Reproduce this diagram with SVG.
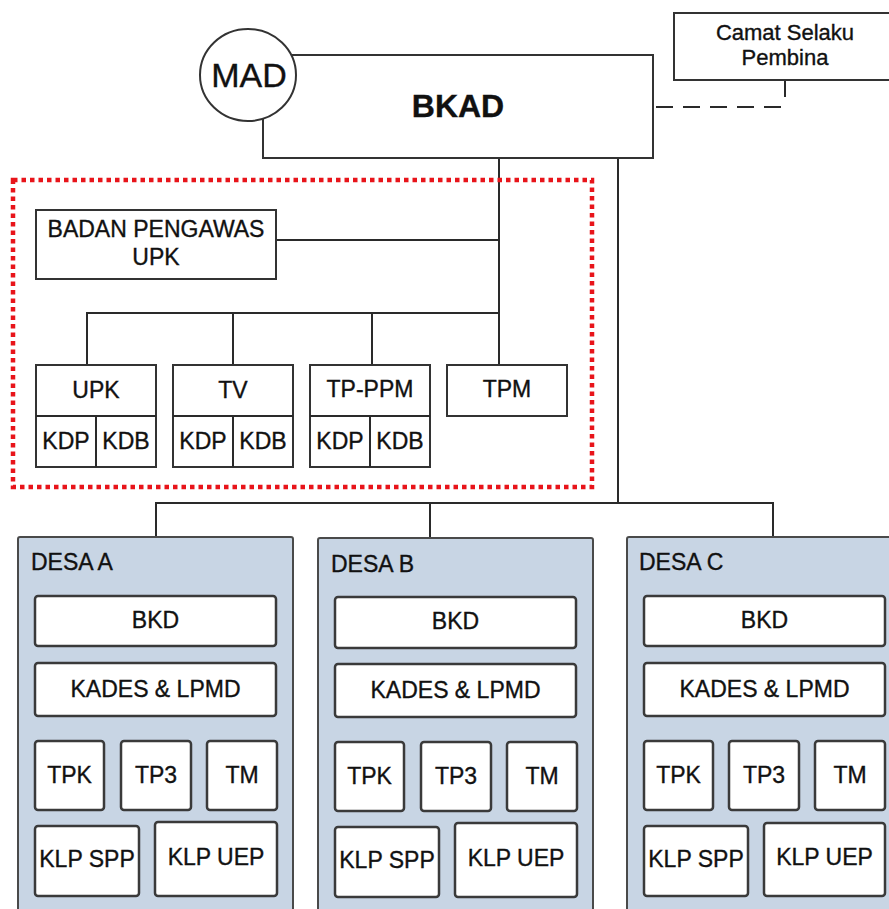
<svg xmlns="http://www.w3.org/2000/svg" width="889" height="909" viewBox="0 0 889 909">
<style>
text{font-family:"Liberation Sans",Arial,sans-serif;fill:#111;font-size:23px;stroke:#111;stroke-width:0.35}
.c{text-anchor:middle}
.cam{font-size:22px}
.mad{font-size:34px}
.bkad{font-size:32px;font-weight:bold}
.box{fill:#fff;stroke:#333;stroke-width:2}
.ib{fill:#fff;stroke:#3a3a3a;stroke-width:2.5}
.desa{fill:#c8d5e4;stroke:#4a4a4a;stroke-width:2}
.ln{fill:none;stroke:#2a2a2a;stroke-width:2}
</style>
<rect width="889" height="909" fill="#fff"/>
<g id="connectors">
<path class="ln" d="M499,158V365M276,240H499M87,365V313H499M233,313V365M372,313V365"/>
<path class="ln" d="M618,158V503M156,537V503H773V537M430,503V538"/>
<path class="ln" d="M785,80V97"/>
<path class="ln" d="M656,107H786" stroke-dasharray="17 10"/>
</g>
<rect id="highlight" x="13" y="180" width="579" height="307" fill="none" stroke="#e8141a" stroke-width="4.5" stroke-dasharray="4.5 4"/>
<g id="camat">
<rect class="box" x="674" y="13" width="220" height="67"/>
<text class="c cam" x="785" y="40">Camat Selaku</text>
<text class="c cam" x="785" y="65">Pembina</text>
</g>
<g id="bkad">
<rect class="box" x="263" y="55" width="390" height="103"/>
<text class="c bkad" x="458" y="117">BKAD</text>
</g>
<g id="mad">
<ellipse cx="248" cy="75" rx="48" ry="46" fill="#fff" stroke="#333" stroke-width="2"/>
<text class="c mad" x="249" y="87">MAD</text>
</g>
<g id="badan-pengawas">
<rect class="box" x="36" y="210" width="240" height="69"/>
<text class="c" x="156" y="237">BADAN PENGAWAS</text>
<text class="c" x="156" y="265">UPK</text>
</g>
<g id="upk">
<rect class="box" x="36" y="365" width="120" height="102"/>
<path class="ln" d="M36,416H156M96,416V467"/>
<text class="c" x="96" y="398">UPK</text>
<text class="c" x="66" y="449">KDP</text>
<text class="c" x="126" y="449">KDB</text>
</g>
<g id="tv">
<rect class="box" x="173" y="365" width="120" height="102"/>
<path class="ln" d="M173,416H293M233,416V467"/>
<text class="c" x="233" y="398">TV</text>
<text class="c" x="203" y="449">KDP</text>
<text class="c" x="263" y="449">KDB</text>
</g>
<g id="tp-ppm">
<rect class="box" x="310" y="365" width="120" height="102"/>
<path class="ln" d="M310,416H430M370,416V467"/>
<text class="c" x="370" y="397">TP-PPM</text>
<text class="c" x="340" y="449">KDP</text>
<text class="c" x="400" y="449">KDB</text>
</g>
<g id="tpm">
<rect class="box" x="447" y="365" width="120" height="51"/>
<text class="c" x="507" y="397">TPM</text>
</g>
<g id="desa-a" transform="translate(18,537)">
<rect class="desa" x="0" y="0" width="275" height="385" rx="2"/>
<text x="13" y="33">DESA A</text>
<rect class="ib" x="17" y="59" width="241" height="50" rx="3"/>
<text class="c" x="137.5" y="91">BKD</text>
<rect class="ib" x="17" y="126" width="241" height="53" rx="3"/>
<text class="c" x="137.5" y="160">KADES &amp; LPMD</text>
<rect class="ib" x="17" y="204" width="69" height="69" rx="3"/>
<text class="c" x="51.5" y="246">TPK</text>
<rect class="ib" x="103" y="204" width="70" height="69" rx="3"/>
<text class="c" x="138" y="246">TP3</text>
<rect class="ib" x="189" y="204" width="70" height="69" rx="3"/>
<text class="c" x="224" y="246">TM</text>
<rect class="ib" x="17" y="289" width="104" height="70" rx="3"/>
<text class="c" x="69" y="330">KLP SPP</text>
<rect class="ib" x="137" y="285" width="122" height="74" rx="3"/>
<text class="c" x="198" y="328">KLP UEP</text>
</g>
<g id="desa-b" transform="translate(318,538)">
<rect class="desa" x="0" y="0" width="275" height="385" rx="2"/>
<text x="13" y="34">DESA B</text>
<rect class="ib" x="17" y="59" width="241" height="51" rx="3"/>
<text class="c" x="137.5" y="91">BKD</text>
<rect class="ib" x="17" y="126" width="241" height="53" rx="3"/>
<text class="c" x="137.5" y="160">KADES &amp; LPMD</text>
<rect class="ib" x="17" y="204" width="69" height="69" rx="3"/>
<text class="c" x="51.5" y="246">TPK</text>
<rect class="ib" x="103" y="204" width="70" height="69" rx="3"/>
<text class="c" x="138" y="246">TP3</text>
<rect class="ib" x="189" y="204" width="70" height="69" rx="3"/>
<text class="c" x="224" y="246">TM</text>
<rect class="ib" x="17" y="289" width="104" height="70" rx="3"/>
<text class="c" x="69" y="330">KLP SPP</text>
<rect class="ib" x="137" y="285" width="122" height="74" rx="3"/>
<text class="c" x="198" y="328">KLP UEP</text>
</g>
<g id="desa-c" transform="translate(627,537)">
<rect class="desa" x="0" y="0" width="275" height="385" rx="2"/>
<text x="12" y="33">DESA C</text>
<rect class="ib" x="17" y="59" width="241" height="50" rx="3"/>
<text class="c" x="137.5" y="91">BKD</text>
<rect class="ib" x="17" y="126" width="241" height="53" rx="3"/>
<text class="c" x="137.5" y="160">KADES &amp; LPMD</text>
<rect class="ib" x="17" y="204" width="69" height="69" rx="3"/>
<text class="c" x="51.5" y="246">TPK</text>
<rect class="ib" x="102" y="204" width="70" height="69" rx="3"/>
<text class="c" x="137" y="246">TP3</text>
<rect class="ib" x="188" y="204" width="70" height="69" rx="3"/>
<text class="c" x="223" y="246">TM</text>
<rect class="ib" x="17" y="289" width="104" height="70" rx="3"/>
<text class="c" x="69" y="330">KLP SPP</text>
<rect class="ib" x="137" y="286" width="121" height="73" rx="3"/>
<text class="c" x="197.5" y="328">KLP UEP</text>
</g>
</svg>
